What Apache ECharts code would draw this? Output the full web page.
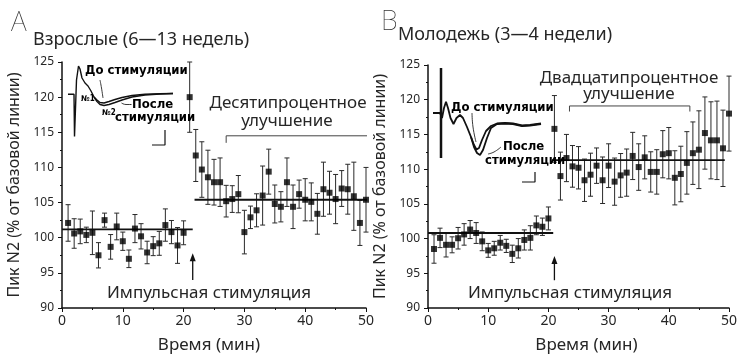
<!DOCTYPE html>
<html><head><meta charset="utf-8">
<script src="https://cdn.jsdelivr.net/npm/echarts@6/dist/echarts.min.js"></script>
<style>html,body{margin:0;padding:0;background:#fff}#c{width:750px;height:363px}</style>
</head><body><div id="c"></div>
<script>
// ---------- data ----------
const minutes = Array.from({length: 50}, (_, i) => i + 1);
const xTicks = [0, 10, 20, 30, 40, 50];
const yTicks = [90, 95, 100, 105, 110, 115, 120, 125];

const meanA = [102.1,100.6,100.9,100.4,100.7,97.5,102.5,98.7,101.6,99.5,97.0,101.3,100.2,97.9,98.8,99.2,101.8,100.8,98.9,100.7,
  120.0,111.7,109.7,108.6,107.9,107.9,105.2,105.5,106.2,100.8,102.9,103.9,106.0,109.4,104.8,104.4,107.9,104.4,106.2,105.4,
  105.1,103.4,106.9,106.4,105.5,107.0,106.9,105.9,102.1,105.4];
const semA = [2.6,2.1,1.75,1.1,3.1,1.8,1.0,1.75,1.9,1.3,1.25,2.0,1.8,1.6,1.35,1.7,2.3,1.65,2.55,1.7,
  5.0,3.7,3.95,3.85,3.25,3.45,2.25,1.9,2.65,3.1,1.6,2.35,4.2,3.2,2.7,2.15,3.45,3.1,2.0,3.0,
  2.7,2.9,3.85,3.05,3.5,2.55,3.55,4.85,3.2,4.6];

const meanB = [98.5,100.1,99.1,99.1,100.05,100.6,101.3,100.8,99.6,98.3,98.6,99.4,98.95,97.8,98.6,99.8,100.1,101.9,101.7,102.9,
  115.8,109.0,111.6,110.4,110.2,108.4,109.2,110.5,108.4,110.5,108.2,109.1,109.5,111.9,110.3,111.7,109.6,109.6,112.15,112.3,
  108.75,109.3,110.9,112.3,112.8,115.2,114.15,114.15,113.0,118.0];
const semB = [2.05,1.4,1.75,1.15,1.55,1.55,1.3,1.5,1.35,1.0,1.0,1.05,0.95,1.25,1.4,1.45,1.75,1.35,1.25,1.65,
  4.8,3.45,3.4,3.0,3.05,3.05,3.1,2.55,3.35,3.15,3.4,3.15,3.4,3.4,3.35,3.1,2.9,3.2,3.4,3.7,
  3.9,4.0,4.5,4.5,5.6,5.2,5.55,5.65,5.5,5.4];

// group means (horizontal lines): [level, from, to]
const baseLineA = [101.2, 0, 21.5];
const postLineA = [105.4, 21.8, 50.2];
const baseLineB = [100.8, 0, 20.8];
const postLineB = [111.3, 20.6, 49.3];
// brackets: [from, to, level, tickEnd]
const bracketA = [27, 50.7, 114.5, 113.5];
const bracketB = [23.5, 43.5, 119.1, 118.3];
// stimulation arrow: [x, tail, head]
const arrowA = [21.5, 94.0, 97.8];
const arrowB = [21.0, 94.0, 97.5];

// inset traces (arbitrary time / amplitude units)
const traceA_before = [[2,45.7],[8,45.7],[8.5,3.5],[10.5,60],[12.5,74],[14,71],[16,62],[19,57],[22,54],[25,49],[28,43],[31,40],[34,37.5],[38,37],[43,38.5],[49,40.5],[56,42.5],[66,44.5],[79,45.7],[94,46.2],[107,46.5]];
const traceA_after  = [[28,43],[31,38.5],[34,35.5],[38,34.5],[43,35.5],[49,37.5],[56,40],[66,43],[79,45],[94,46],[107,46.5]];
const pointerA_before = [[34,60],[35.5,52],[37,42]];
const pointerA_after = [[55.5,37],[60,35.5],[65.5,35.5]];
const scaleA = [[86,-5],[99,-5],[99,10]];

const traceB_before = [[3,72],[10,72],[12,67],[14,77],[16,83.3],[18,77],[20.5,67],[23.5,61],[26.5,67],[30,70],[33,67],[37,58],[41,48],[44,40],[46.5,35.5],[49,37],[52,45],[56,54],[61,59],[67,61.5],[75,62],[83,61.5],[92,59.5],[100,60],[111,61.5]];
const traceB_after  = [[41,48],[44,38],[47,32],[50,30],[53,35],[57,47],[61,57],[67,61],[75,61.5],[83,61],[92,59],[100,59.5],[111,61]];
const artifactB = [[11,117],[11,27]];
const pointerB_before = [[42,72],[43,58],[46,43]];
const pointerB_after = [[71,38],[64,33],[58,31]];
const scaleB = [[92,3],[105,3],[105,13]];

// ---------- chart ----------
const FONT = "'Noto Sans', 'Open Sans', sans-serif";
const BOLDN = "'Liberation Sans Narrow', 'DejaVu Sans Condensed', sans-serif";
const TXT = '#262626';

function pts(mean) { return minutes.map((m, i) => [m, mean[i]]); }
function errs(mean, sem) { return minutes.map((m, i) => [m, +(mean[i] - sem[i]).toFixed(2), +(mean[i] + sem[i]).toFixed(2)]); }
function hline(l) { return [[l[1], l[0]], [l[2], l[0]]]; }
function bracket(b) { return [[b[0], b[3]], [b[0], b[2]], [b[1], b[2]], [b[1], b[3]]]; }

function errorRender(params, api) {
  const x = api.value(0), lo = api.value(1), hi = api.value(2);
  const p1 = api.coord([x, hi]), p2 = api.coord([x, lo]);
  const cw = 2.5, st = {stroke: '#2a2a2a', lineWidth: 1};
  return {type: 'group', children: [
    {type: 'line', shape: {x1: p1[0], y1: p1[1], x2: p2[0], y2: p2[1]}, style: st},
    {type: 'line', shape: {x1: p1[0] - cw, y1: p1[1], x2: p1[0] + cw, y2: p1[1]}, style: st},
    {type: 'line', shape: {x1: p2[0] - cw, y1: p2[1], x2: p2[0] + cw, y2: p2[1]}, style: st}
  ]};
}
function arrowRender(params, api) {
  const x = api.value(0), t = api.coord([x, api.value(1)]), h = api.coord([x, api.value(2)]);
  return {type: 'group', children: [
    {type: 'line', shape: {x1: t[0], y1: t[1], x2: h[0], y2: h[1] + 4}, style: {stroke: '#111', lineWidth: 1.3}},
    {type: 'polygon', shape: {points: [[h[0], h[1]], [h[0] - 3, h[1] + 8], [h[0] + 3, h[1] + 8]]}, style: {fill: '#111'}}
  ]};
}

function mainX(gi, pad) {
  return {type: 'value', gridIndex: gi, min: 0, max: 50, interval: 10,
    name: 'Время (мин)', nameLocation: 'middle', nameGap: 29,
    nameTextStyle: {fontSize: 17, color: TXT, fontFamily: FONT, padding: pad},
    axisLine: {onZero: false, lineStyle: {color: '#111', width: 1.5}},
    axisTick: {length: 4, lineStyle: {color: '#111', width: 1}},
    minorTick: {show: true, splitNumber: 2, length: 2, lineStyle: {color: '#111'}},
    splitLine: {show: false},
    axisLabel: {fontSize: 14, color: TXT, margin: 6, fontFamily: FONT}};
}
function mainY(gi) {
  return {type: 'value', gridIndex: gi, min: 90, max: 125, interval: 5,
    name: 'Пик N2 (% от базовой линии)', nameLocation: 'middle', nameGap: 40, nameRotate: 90,
    nameTextStyle: {fontSize: 16, color: TXT, fontFamily: FONT},
    axisLine: {show: true, onZero: false, lineStyle: {color: '#111', width: 1.5}},
    axisTick: {show: true, length: 4, lineStyle: {color: '#111', width: 1}},
    minorTick: {show: true, splitNumber: 2, length: 2, lineStyle: {color: '#111'}},
    splitLine: {show: false},
    axisLabel: {fontSize: 12, color: TXT, margin: 8, fontFamily: FONT}};
}
function hidden(gi, min, max) { return {type: 'value', gridIndex: gi, min: min, max: max, show: false, splitLine: {show: false}}; }

function lineS(xi, data, w, color, smooth) {
  return {type: 'line', xAxisIndex: xi, yAxisIndex: xi, data: data, symbol: 'none', silent: true,
    smooth: !!smooth, lineStyle: {color: color || '#111', width: w}, z: 3};
}
function arrowS(xi, a) {
  return {type: 'custom', xAxisIndex: xi, yAxisIndex: xi, renderItem: arrowRender, data: [a], encode: {x: 0, y: [1, 2]}, silent: true, z: 3};
}

function txt(x, y, text, size, opts) {
  opts = opts || {};
  return {type: 'text', x: x, y: y, silent: true, z: 10, style: {
    text: text, fontSize: size, fontFamily: opts.family || FONT, fontWeight: opts.weight || 'normal',
    fill: opts.fill || TXT, textAlign: opts.align || 'center', textVerticalAlign: 'middle',
    align: opts.align || 'center', verticalAlign: 'middle'}};
}

const chart = echarts.init(document.getElementById('c'), null, {renderer: 'canvas'});
chart.setOption({
  backgroundColor: '#fff',
  animation: false,
  grid: [
    {left: 62, top: 62, width: 304, height: 246},
    {left: 428, top: 65, width: 301, height: 243},
    {left: 66, top: 60, width: 112, height: 90},
    {left: 430, top: 60, width: 115, height: 125}
  ],
  xAxis: [mainX(0, [0, 10, 0, 0]), mainX(1, [0, 0, 0, 16]), hidden(2, 0, 112), hidden(3, 0, 115)],
  yAxis: [mainY(0), mainY(1), hidden(2, -10, 80), hidden(3, 0, 125)],
  series: [
    // panel A
    {type: 'custom', xAxisIndex: 0, yAxisIndex: 0, renderItem: errorRender, data: errs(meanA, semA), encode: {x: 0, y: [1, 2]}, z: 2, silent: true},
    lineS(0, hline(baseLineA), 1.8),
    lineS(0, hline(postLineA), 1.8),
    {type: 'scatter', xAxisIndex: 0, yAxisIndex: 0, data: pts(meanA), symbol: 'rect', symbolSize: 6, itemStyle: {color: '#000'}, z: 4, silent: true},
    lineS(0, bracket(bracketA), 1, '#444'),
    arrowS(0, arrowA),
    // panel B
    {type: 'custom', xAxisIndex: 1, yAxisIndex: 1, renderItem: errorRender, data: errs(meanB, semB), encode: {x: 0, y: [1, 2]}, z: 2, silent: true},
    lineS(1, hline(baseLineB), 1.8),
    lineS(1, hline(postLineB), 1.8),
    {type: 'scatter', xAxisIndex: 1, yAxisIndex: 1, data: pts(meanB), symbol: 'rect', symbolSize: 6, itemStyle: {color: '#000'}, z: 4, silent: true},
    lineS(1, bracket(bracketB), 1, '#444'),
    arrowS(1, arrowB),
    // inset A
    lineS(2, traceA_before, 1.4, '#111'),
    lineS(2, traceA_after, 1.4, '#111'),
    lineS(2, pointerA_before, 0.9, '#222', true),
    lineS(2, pointerA_after, 0.9, '#222', true),
    lineS(2, scaleA, 1.2, '#111'),
    // inset B
    lineS(3, traceB_before, 1.8, '#111'),
    lineS(3, traceB_after, 1.8, '#111'),
    lineS(3, artifactB, 2.5, '#111'),
    lineS(3, pointerB_before, 0.9, '#222', true),
    lineS(3, pointerB_after, 0.9, '#222', true),
    lineS(3, scaleB, 1.2, '#111')
  ],
  graphic: [
    txt(11, 23, 'A', 27, {align: 'left', weight: 'lighter', fill: '#333'}),
    txt(33, 40, 'Взрослые (6—13 недель)', 18, {align: 'left'}),
    txt(288, 103, 'Десятипроцентное', 17),
    txt(287, 121, 'улучшение', 17),
    txt(209, 293, 'Импульсная стимуляция', 17),
    txt(381, 22, 'B', 27, {align: 'left', weight: 'lighter', fill: '#333'}),
    txt(398, 35, 'Молодежь (3—4 недели)', 18, {align: 'left'}),
    txt(629, 78, 'Двадцатипроцентное', 17),
    txt(629, 94, 'улучшение', 17),
    txt(570, 293, 'Импульсная стимуляция', 17),
    // inset labels
    txt(85, 71, 'До стимуляции', 13, {align: 'left', family: BOLDN, weight: 'bold', fill: '#000'}),
    txt(81, 99, '№1', 8, {align: 'left', family: BOLDN, weight: 'bold', fill: '#000'}),
    txt(102, 113, '№2', 8, {align: 'left', family: BOLDN, weight: 'bold', fill: '#000'}),
    txt(132, 105, 'После', 13, {align: 'left', family: BOLDN, weight: 'bold', fill: '#000'}),
    txt(115, 118, 'стимуляции', 13, {align: 'left', family: BOLDN, weight: 'bold', fill: '#000'}),
    txt(451, 108, 'До стимуляции', 13, {align: 'left', family: BOLDN, weight: 'bold', fill: '#000'}),
    txt(503, 147, 'После', 13, {align: 'left', family: BOLDN, weight: 'bold', fill: '#000'}),
    txt(485, 161, 'стимуляции', 13, {align: 'left', family: BOLDN, weight: 'bold', fill: '#000'})
  ]
});
</script></body></html>
